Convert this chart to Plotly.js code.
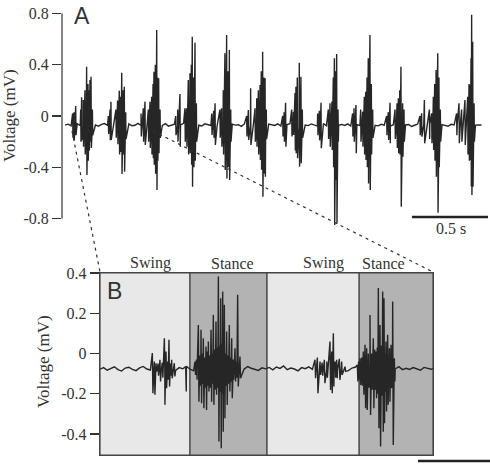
<!DOCTYPE html>
<html><head><meta charset="utf-8">
<script src="https://cdn.plot.ly/plotly-3.0.1.min.js"></script>
<style>html,body{margin:0;padding:0;background:#fff}#chart{width:490px;height:468px}</style>
</head><body><div id="chart"></div>
<script>
// ---------- DATA ----------
// Panel A: EMG spikes [time s, peak mV, trough mV]
const spikesA = [
 [.070,.02,-.17],[.079,.03,-.19],[.090,.078,-.15],[.123,.05,-.2],[.129,.146,-.19],[.140,.125,-.24],[.151,.2,-.3],[.162,.385,-.461],[.171,.25,-.35],[.178,.2,-.27],[.184,.28,-.2],[.191,.307,-.25],[.200,.05,-.15],
 [.305,0,-.14],[.316,.05,-.19],[.322,.112,-.187],[.355,.05,-.17],[.366,.12,-.22],[.377,.198,-.3],[.386,.15,-.28],[.393,.338,-.453],[.401,.2,-.3],[.410,.229,-.435],[.419,.03,-.18],
 [.520,.02,-.16],[.535,.06,-.2],[.546,.112,-.226],[.568,.05,-.2],[.579,.112,-.25],[.590,.15,-.3],[.599,.25,-.33],[.605,.346,-.38],[.614,.4,-.45],[.623,.671,-.578],[.629,.3,-.35],[.636,.294,-.291],[.645,.05,-.17],
 [.748,0,-.15],[.761,.05,-.2],[.776,.172,-.239],[.809,.06,-.2],[.820,.06,-.24],[.831,.281,-.3],[.842,.333,-.291],[.851,.4,-.38],[.857,.619,-.552],[.866,.3,-.4],[.875,.572,-.35],[.884,.1,-.2],
 [.985,.02,-.148],[.998,.04,-.17],[1.007,.099,-.226],[1.039,.05,-.17],[1.050,.06,-.239],[1.061,.2,-.3],[1.072,.489,-.422],[1.083,.632,-.487],[1.092,.35,-.4],[1.101,.515,-.5],[1.110,.05,-.2],
 [1.215,0,-.16],[1.226,.047,-.187],[1.241,.216,-.226],[1.270,.06,-.2],[1.281,.138,-.24],[1.292,.2,-.3],[1.303,.242,-.343],[1.311,.35,-.42],[1.320,.502,-.63],[1.329,.3,-.45],[1.336,.294,-.474],[1.344,.05,-.18],
 [1.452,0,-.16],[1.461,.03,-.2],[1.471,.104,-.239],[1.511,.05,-.16],[1.522,.034,-.148],[1.533,.18,-.27],[1.539,.229,-.291],[1.548,.3,-.33],[1.561,.416,-.396],[1.572,.307,-.369],[1.581,.05,-.17],
 [1.682,.02,-.15],[1.693,.04,-.19],[1.704,.104,-.252],[1.752,.05,-.18],[1.763,.099,-.239],[1.776,.112,-.265],[1.785,.3,-.4],[1.792,.45,-.851],[1.800,.35,-.5],[1.807,.484,-.838],[1.816,.05,-.2],
 [1.912,.02,-.16],[1.921,.06,-.2],[1.934,.086,-.291],[1.965,.05,-.2],[1.978,.034,-.239],[1.989,.15,-.3],[1.998,.19,-.343],[2.007,.3,-.4],[2.015,.45,-.526],[2.026,.632,-.578],[2.035,.25,-.3],[2.044,.05,-.17],
 [2.136,0,-.15],[2.147,.03,-.187],[2.158,.104,-.213],[2.191,.05,-.18],[2.204,.1,-.25],[2.213,.138,-.291],[2.222,.2,-.3],[2.230,.385,-.708],[2.241,.099,-.317],[2.250,.05,-.2],
 [2.355,0,-.15],[2.366,.021,-.161],[2.384,.125,-.213],[2.417,.05,-.18],[2.432,.021,-.213],[2.443,.151,-.265],[2.452,.25,-.35],[2.461,.359,-.474],[2.472,.489,-.755],[2.480,.3,-.4],[2.489,.05,-.2],
 [2.596,.02,-.15],[2.612,.099,-.213],[2.629,.05,-.2],[2.651,.125,-.226],[2.669,.15,-.3],[2.678,.25,-.35],[2.684,.242,-.343],[2.691,.45,-.55],[2.695,.79,-.617],[2.702,.58,-.552],[2.711,.1,-.2]
];
// Panel A baseline (mV), sampled every 0.02 s from 0.02 s
const baseA = [
-0.071,-0.064,-0.077,-0.068,-0.060,-0.074,-0.080,-0.067,-0.062,-0.075,
-0.070,-0.079,-0.065,-0.059,-0.073,-0.078,-0.067,-0.071,-0.063,-0.081,
-0.069,-0.061,-0.076,-0.072,-0.058,-0.074,-0.083,-0.066,-0.070,-0.062,
-0.077,-0.068,-0.073,-0.060,-0.079,-0.071,-0.064,-0.075,-0.069,-0.057,
-0.076,-0.082,-0.067,-0.063,-0.072,-0.078,-0.061,-0.070,-0.074,-0.066,
-0.080,-0.069,-0.059,-0.073,-0.077,-0.064,-0.071,-0.068,-0.081,-0.062,
-0.075,-0.070,-0.058,-0.076,-0.067,-0.073,-0.079,-0.063,-0.069,-0.074,
-0.061,-0.078,-0.072,-0.066,-0.060,-0.077,-0.070,-0.083,-0.065,-0.071,
-0.075,-0.062,-0.068,-0.079,-0.073,-0.059,-0.076,-0.069,-0.064,-0.080,
-0.072,-0.066,-0.074,-0.061,-0.078,-0.070,-0.067,-0.075,-0.063,-0.081,
-0.069,-0.058,-0.073,-0.077,-0.065,-0.071,-0.062,-0.079,-0.068,-0.074,
-0.060,-0.076,-0.070,-0.066,-0.082,-0.072,-0.063,-0.075,-0.069,-0.078,
-0.064,-0.071,-0.059,-0.077,-0.067,-0.073,-0.080,-0.065,-0.070,-0.062,
-0.076,-0.068,-0.074,-0.071,-0.066,-0.072,-0.069,-0.070];
const baseA_t0 = 0.02, baseA_dt = 0.02;

// Panel B: EMG spikes [time s, peak mV, trough mV]
const spikesB = [
 // swing 1
 [.0727,.002,-.197],[.0755,-.04,-.205],[.0778,-.048,-.089],[.0805,-.05,-.11],[.0833,-.031,-.139],[.0865,-.045,-.12],[.0894,.076,-.255],[.0917,.01,-.172],[.0940,-.04,-.13],[.0958,.068,-.164],[.0980,-.05,-.11],[.0995,-.031,-.123],[.1032,-.048,-.114],[.1190,-.065,-.189],
 // stance 1
 [.1319,-.04,-.106],[.1340,-.03,-.13],[.1366,.142,-.239],[.1385,-.01,-.16],[.1403,.118,-.247],[.1420,.0,-.15],[.1435,.076,-.272],[.1455,-.02,-.17],[.1472,.035,-.28],[.1490,.01,-.16],[.1505,.06,-.189],[.1525,-.01,-.17],[.1542,.118,-.239],[.1558,.0,-.15],[.1574,.192,-.255],[.1592,.02,-.18],[.1611,.159,-.205],[.1628,.03,-.17],[.1644,.383,-.437],[.1660,.04,-.19],[.1676,.275,-.47],[.1690,.05,-.2],[.1704,.308,-.388],[.1715,.03,-.17],[.1727,.242,-.321],[.1742,.0,-.16],[.1759,.109,-.255],[.1777,-.01,-.15],[.1796,.142,-.189],[.1812,-.02,-.14],[.1829,.076,-.222],[.1850,-.03,-.13],[.1875,.026,-.139],[.1893,-.04,-.12],[.1912,.292,-.164],[.1944,-.015,-.123],
 // swing 2
 [.2986,-.031,-.123],[.3019,-.02,-.197],[.3056,-.04,-.106],[.3085,-.045,-.11],[.3116,-.031,-.147],[.3150,-.04,-.12],[.3194,.06,-.181],[.3218,.01,-.197],[.3241,.101,-.164],[.3265,-.04,-.12],[.3287,-.031,-.123],[.3324,-.026,-.131],[.3356,-.04,-.106],[.3403,-.065,-.089],
 // stance 2
 [.3574,-.056,-.139],[.3592,-.04,-.13],[.3611,-.023,-.156],[.3634,-.02,-.16],[.3657,.01,-.205],[.3681,.043,-.272],[.3704,.026,-.28],[.3727,.0,-.17],[.3750,.192,-.305],[.3773,.0,-.18],[.3796,.076,-.272],[.3815,.02,-.18],[.3833,.01,-.222],[.3850,.03,-.2],[.3866,.325,-.371],[.3878,.02,-.2],[.3889,.142,-.462],[.3910,.04,-.21],[.3926,.308,-.388],[.3944,.275,-.346],[.3958,.0,-.19],[.3972,.06,-.288],[.3995,.093,-.255],[.4007,-.01,-.16],[.4019,.026,-.239],[.4042,.043,-.172],[.4054,-.02,-.15],[.4065,.259,-.454],[.4088,-.023,-.139]
];
// Panel B baseline (mV), sampled every 0.005 s from 0 s
const baseB = [
-0.078,-0.070,-0.083,-0.074,-0.066,-0.080,-0.087,-0.072,-0.068,-0.079,
-0.085,-0.071,-0.064,-0.077,-0.082,-0.069,-0.075,-0.088,-0.073,-0.067,
-0.079,-0.084,-0.070,-0.076,-0.063,-0.078,-0.086,-0.072,-0.069,-0.081,
-0.074,-0.066,-0.080,-0.077,-0.071,-0.085,-0.068,-0.075,-0.082,-0.070,
-0.078,-0.065,-0.073,-0.079,-0.084,-0.071,-0.076,-0.069,-0.081,-0.067,
-0.074,-0.062,-0.080,-0.072,-0.077,-0.086,-0.070,-0.075,-0.066,-0.079,
-0.083,-0.071,-0.068,-0.078,-0.073,-0.064,-0.081,-0.076,-0.070,-0.085,
-0.072,-0.067,-0.080,-0.074,-0.063,-0.078,-0.082,-0.069,-0.075,-0.071,
-0.084,-0.068,-0.077,-0.065,-0.080,-0.073,-0.079,-0.070,-0.076,-0.083,
-0.069,-0.074,-0.078,-0.072];
const baseB_t0 = 0, baseB_dt = 0.005;

// Step phases in panel B
const phaseNames = ["Swing","Stance","Swing","Stance"];
const phaseStart = [0, 0.125, 0.232, 0.360];
const phaseEnd   = [0.125, 0.232, 0.360, 0.4625];

const ticksA = [-0.8,-0.4,0,0.4,0.8], tickTextA = ["-0.8","-0.4","0","0.4","0.8"];
const ticksB = [-0.4,-0.2,0,0.2,0.4], tickTextB = ["-0.4","-0.2","0","0.2","0.4"];
const scaleA = 0.5, scaleB = 0.1; // seconds

// ---------- BUILD ----------
function build(spikes, base, t0, dt, eps){
  const pts = [];
  base.forEach((v,i)=>pts.push([t0+i*dt, v, 0]));
  spikes.forEach(s=>{ pts.push([s[0], s[1], 1]); pts.push([s[0]+eps, s[2], 2]); });
  pts.sort((a,b)=>a[0]-b[0] || a[2]-b[2]);
  return {x:pts.map(p=>p[0]), y:pts.map(p=>p[1])};
}
const tA = build(spikesA, baseA, baseA_t0, baseA_dt, 0.002);
const tB = build(spikesB, baseB, baseB_t0, baseB_dt, 0.0008);

const W=490,H=468;
const PX = p=>p/W, PY = p=>1-p/H;
const ink = '#262626';
const serif = 'Liberation Serif';
const sans = 'Liberation Sans';

const traces = [
 {x:tA.x, y:tA.y, xaxis:'x', yaxis:'y', mode:'lines', line:{color:ink, width:1.4}, hoverinfo:'skip'},
 {x:tB.x, y:tB.y, xaxis:'x2', yaxis:'y2', mode:'lines', line:{color:ink, width:1.4}, hoverinfo:'skip'}
];

const xA1 = 428/152;
const shapes = [];
phaseNames.forEach((n,i)=>{
  shapes.push({type:'rect', xref:'x2', yref:'paper', x0:phaseStart[i], x1:phaseEnd[i], y0:PY(455), y1:PY(273),
    fillcolor: n==='Swing' ? '#e8e8e8' : '#b3b3b3', line:{color:'#444', width:1.2}, layer:'below'});
});
shapes.push({type:'line', xref:'paper', yref:'y', x0:PX(62), x1:PX(62), y0:-0.8, y1:0.8, line:{color:'#333', width:1.2}});
shapes.push({type:'line', xref:'x', yref:'paper', x0:xA1-0.013-scaleA, x1:xA1-0.013, y0:PY(217), y1:PY(217), line:{color:'#222', width:2.5}});
shapes.push({type:'line', xref:'paper', yref:'paper', x0:PX(418), x1:PX(418+72*scaleB/0.1), y0:PY(461), y1:PY(461), line:{color:'#222', width:2.5}});
shapes.push({type:'line', xref:'paper', yref:'paper', x0:PX(72), y0:PY(131), x1:PX(100), y1:PY(272), line:{color:'#333', width:1.2, dash:'3px,4px'}});
shapes.push({type:'line', xref:'paper', yref:'paper', x0:PX(153), y0:PY(131), x1:PX(433), y1:PY(272), line:{color:'#333', width:1.2, dash:'3px,4px'}});

const ann = (t,x,y,font,extra)=>Object.assign({text:t, xref:'paper', yref:'paper', x:PX(x), y:PY(y), showarrow:false, xanchor:'center', yanchor:'middle', font:font}, extra||{});
const fSerif = {family:serif, size:16, color:'#333'};
const annotations = [
  ann('Voltage (mV)', 9, 116, {family:serif, size:17, color:'#333'}, {textangle:-90}),
  ann('Voltage (mV)', 43, 362, {family:serif, size:17, color:'#333'}, {textangle:-90}),
  ann('A', 82, 16, {family:sans, size:23, color:'#333'}),
  ann('B', 114, 291, {family:sans, size:23, color:'#333'}),
  ann(scaleA+' s', 451, 228, fSerif),
  ann(scaleB+' s', 456, 473, fSerif),
  ann(phaseNames[0], 150, 263, fSerif),
  ann(phaseNames[1], 232, 263, fSerif),
  ann(phaseNames[2], 323, 263, fSerif),
  ann(phaseNames[3], 383, 263, fSerif)
];

const layout = {
  width:W, height:H, margin:{l:0,r:0,t:0,b:0}, showlegend:false,
  paper_bgcolor:'#fff', plot_bgcolor:'rgba(0,0,0,0)',
  xaxis:{domain:[PX(62),1], range:[0,xA1], visible:false, anchor:'y'},
  yaxis:{domain:[PY(226.2),PY(5.8)], range:[-0.86,0.86], anchor:'x', showgrid:false, zeroline:false, showline:false,
         ticks:'outside', ticklen:9, tickwidth:1.2, tickcolor:'#333', tickvals:ticksA, ticktext:tickTextA, tickfont:fSerif},
  xaxis2:{domain:[PX(100),PX(433)], range:[0,0.4625], anchor:'y2', showgrid:false, zeroline:false, showline:true, mirror:true,
          linecolor:'#444', linewidth:1.2, showticklabels:false, ticks:''},
  yaxis2:{domain:[PY(455),PY(273)], range:[-0.504,0.4], anchor:'x2', showgrid:false, zeroline:false, showline:true, mirror:true,
          linecolor:'#444', linewidth:1.2, ticks:'outside', ticklen:9, tickwidth:1.2, tickcolor:'#333', tickvals:ticksB, ticktext:tickTextB, tickfont:fSerif},
  shapes:shapes, annotations:annotations
};
Plotly.newPlot('chart', traces, layout, {staticPlot:true});
</script></body></html>
